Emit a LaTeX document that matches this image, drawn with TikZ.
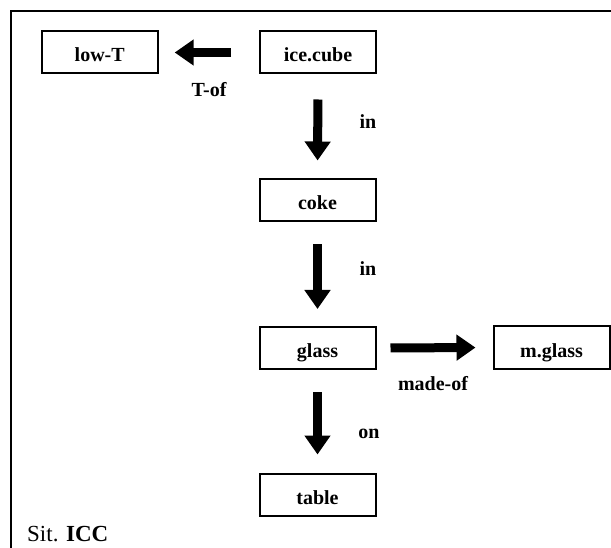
\documentclass[tikz,border=0pt]{standalone}
\usepackage{fontspec}
\setmainfont{Liberation Serif}
\usetikzlibrary{arrows.meta}
\begin{document}
\begin{tikzpicture}[x=1pt,y=-1pt,
  concept/.style={draw, line width=2pt, minimum width=116pt, minimum height=42pt,
    inner sep=0pt, text height=19pt, text depth=0pt,
    font=\fontsize{20}{23}\selectfont\bfseries},
  link/.style={line width=9pt, -{Triangle[length=19pt,width=25pt]}},
  rel/.style={inner sep=0pt, font=\fontsize{20}{23}\selectfont\bfseries},
  frameline/.style={line width=2pt, line join=miter}]
\useasboundingbox (0,0) rectangle (611,548);

% outer frame (left and top edges)
\draw[frameline] (11,560) -- (11,11) -- (620,11);

% concepts
\node[concept] (lowT)   at (99.7,52.5)  {low-T};
\node[concept] (ice)    at (318,52.5)   {ice.cube};
\node[concept] (coke)   at (317.5,200.5) {coke};
\node[concept] (glass)  at (317.5,348)  {glass};
\node[concept] (mglass) at (551.5,347.5) {m.glass};
\node[concept] (table)  at (317.5,494.5) {table};

% relations
\draw[link, shorten <=28pt, shorten >=16pt] (ice.west) -- (lowT.east);
\draw[link, shorten <=25pt, shorten >=18pt] (ice.south) -- (coke.north);
\draw[link, shorten <=22pt, shorten >=17pt] (coke.south) -- (glass.north);
\draw[link, shorten <=14pt, shorten >=17pt] (glass.east) -- (mglass.west);
\draw[link, shorten <=22pt, shorten >=18pt] (glass.south) -- (table.north);

% relation labels
\node[rel] (lTof)   at (209,90)  {T-of};
\node[rel] (lin1)   at (368,122) {in};
\node[rel] (lin2)   at (368,269) {in};
\node[rel] (lmade)  at (433,384) {made-of};
\node[rel] (lon)    at (369,434) {on};

% situation caption
\node[anchor=base west, inner sep=0pt, font=\fontsize{23}{26}\selectfont] (sit) at (27,541)
  {Sit. \textbf{ICC}};
\end{tikzpicture}
\end{document}
